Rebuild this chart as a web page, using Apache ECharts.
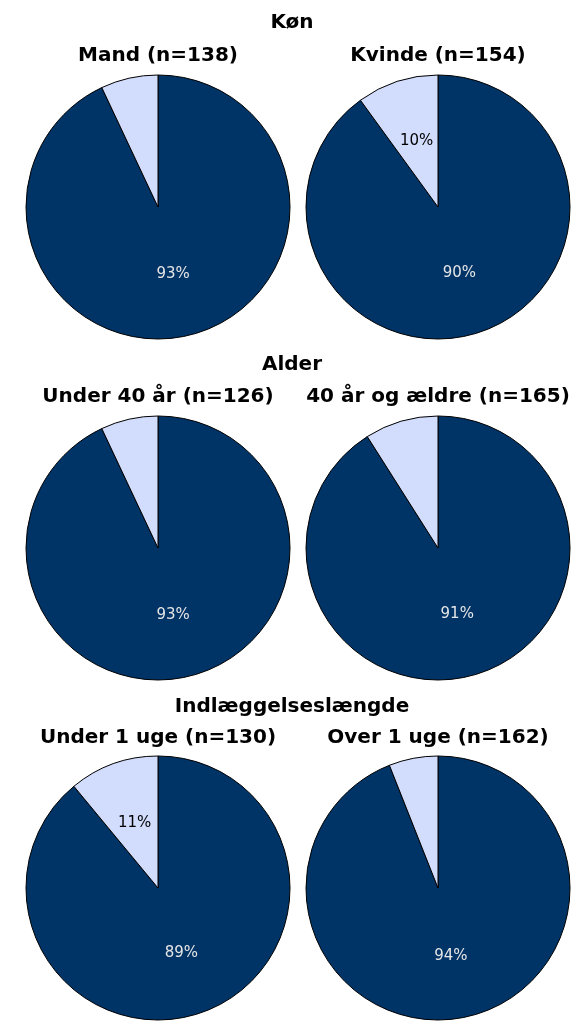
<!DOCTYPE html>
<html>
<head>
<meta charset="utf-8">
<script src="https://cdn.jsdelivr.net/npm/echarts@6/dist/echarts.min.js"></script>
<style>
  html, body { margin:0; padding:0; background:#fff; }
  #chart { width:584px; height:1021px; }
</style>
</head>
<body>
<div id="chart"></div>
<script>
// gruppe-titler og delgrupper
var groupTitles = ['Køn', 'Alder', 'Indlæggelseslængde'];
var pieTitles = ['Mand (n=138)', 'Kvinde (n=154)', 'Under 40 år (n=126)', '40 år og ældre (n=165)', 'Under 1 uge (n=130)', 'Over 1 uge (n=162)'];
// andele i procent: [mørk, lys]
var darkValues = [93, 90, 93, 91, 89, 94];
var lightValues = [7, 10, 7, 9, 11, 6];

var centers = [[158, 207], [438, 207], [158, 548], [438, 548], [158, 888], [438, 888]];
var groupY = [23, 365, 707];
var subY = [56, 397, 738];

var myChart = echarts.init(document.getElementById('chart'));

// overskrifter som tekst-elementer
var texts = [];
for (var i = 0; i < groupTitles.length; i++) {
  texts.push({
    type: 'text', x: 292, y: groupY[i], silent: true,
    style: { text: groupTitles[i], align: 'center', verticalAlign: 'middle',
             font: 'bold 20px "DejaVu Sans"', fill: '#000' }
  });
}
for (var i = 0; i < pieTitles.length; i++) {
  texts.push({
    type: 'text', x: centers[i][0], y: subY[Math.floor(i / 2)], silent: true,
    style: { text: pieTitles[i], align: 'center', verticalAlign: 'middle',
             font: 'bold 20px "DejaVu Sans"', fill: '#000' }
  });
}

var series = [];
for (var i = 0; i < pieTitles.length; i++) {
  series.push({
    type: 'pie',
    center: centers[i],
    radius: 132,
    startAngle: 90,
    clockwise: true,
    animation: false,
    silent: true,
    itemStyle: { borderColor: '#000', borderWidth: 1 },
    labelLine: { show: false },
    data: [
      { value: darkValues[i], itemStyle: { color: '#003366' },
        label: { show: true, position: 'inside', color: '#e6e6e6', formatter: '{c}%' } },
      { value: lightValues[i], itemStyle: { color: '#d2dcfc' },
        label: { show: lightValues[i] >= 10, position: 'inside', color: '#000', formatter: '{c}%' } }
    ],
    label: { fontFamily: 'DejaVu Sans', fontSize: 15 }
  });
}

myChart.setOption({
  graphic: texts,
  series: series
});
</script>
</body>
</html>
